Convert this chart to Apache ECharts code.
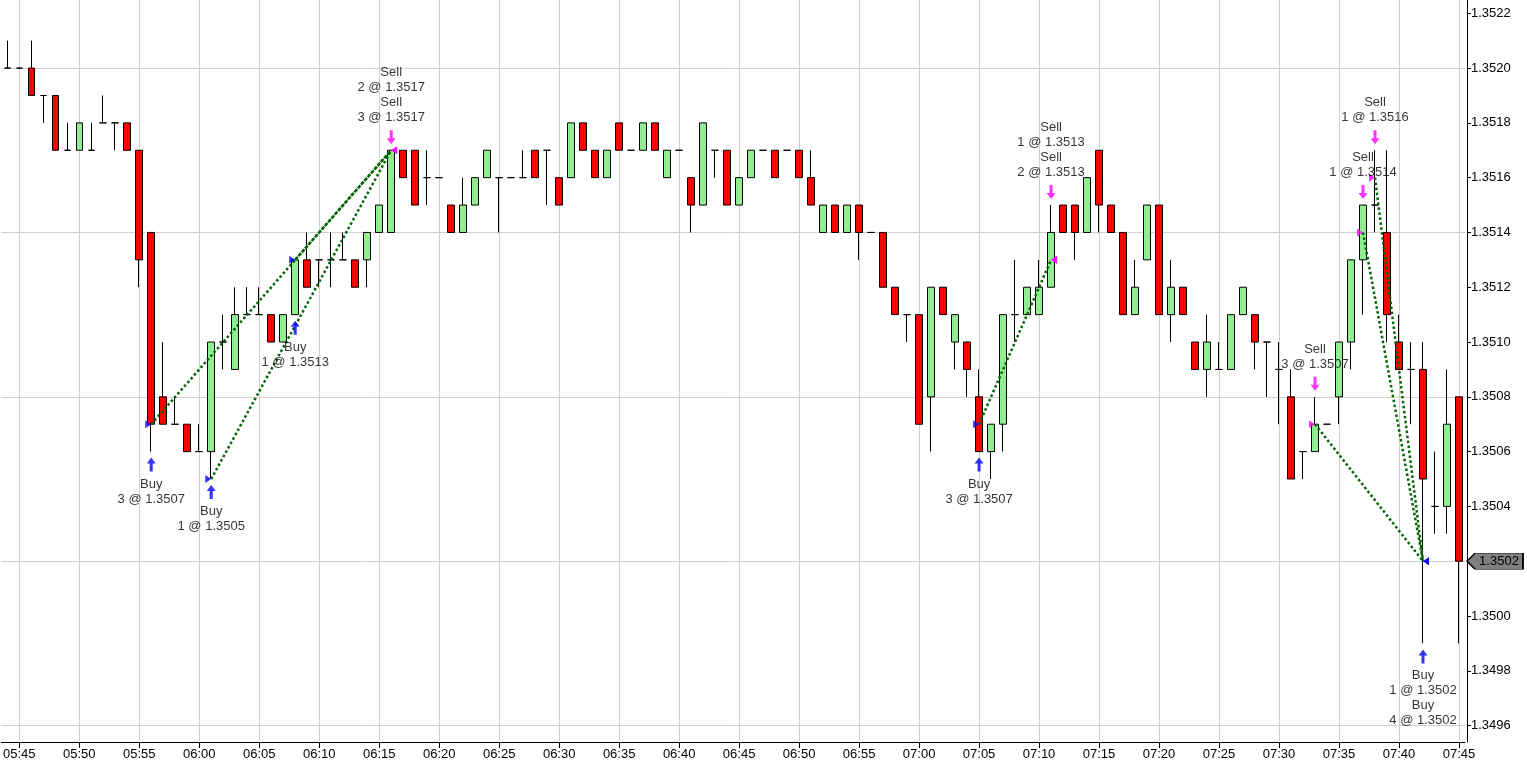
<!DOCTYPE html>
<html>
<head>
<meta charset="utf-8">
<script src="https://cdn.jsdelivr.net/npm/echarts@6/dist/echarts.min.js"></script>
<style>
html,body{margin:0;padding:0;background:#fff;}
#chart{width:1527px;height:769px;}
</style>
</head>
<body>
<div id="chart"></div>
<script>
const times = [
'05:44','05:45','05:46','05:47','05:48','05:49','05:50','05:51','05:52','05:53','05:54','05:55','05:56','05:57','05:58','05:59',
'06:00','06:01','06:02','06:03','06:04','06:05','06:06','06:07','06:08','06:09','06:10','06:11','06:12','06:13','06:14','06:15','06:16','06:17','06:18','06:19',
'06:20','06:21','06:22','06:23','06:24','06:25','06:26','06:27','06:28','06:29','06:30','06:31','06:32','06:33','06:34','06:35','06:36','06:37','06:38','06:39',
'06:40','06:41','06:42','06:43','06:44','06:45','06:46','06:47','06:48','06:49','06:50','06:51','06:52','06:53','06:54','06:55','06:56','06:57','06:58','06:59',
'07:00','07:01','07:02','07:03','07:04','07:05','07:06','07:07','07:08','07:09','07:10','07:11','07:12','07:13','07:14','07:15','07:16','07:17','07:18','07:19',
'07:20','07:21','07:22','07:23','07:24','07:25','07:26','07:27','07:28','07:29','07:30','07:31','07:32','07:33','07:34','07:35','07:36','07:37','07:38','07:39',
'07:40','07:41','07:42','07:43','07:44','07:45'
];

const opens = [
1.3520,1.3520,1.3520,1.3519,1.3519,1.3517,1.3517,1.3517,1.3518,1.3518,
1.3518,1.3517,1.3514,1.3508,1.3507,1.3507,1.3506,1.3506,1.3510,1.3509,
1.3511,1.3511,1.3511,1.3510,1.3511,1.3513,1.3513,1.3513,1.3513,1.3513,
1.3513,1.3514,1.3514,1.3517,1.3517,1.3516,1.3516,1.3515,1.3514,1.3515,
1.3516,1.3516,1.3516,1.3516,1.3517,1.3517,1.3516,1.3516,1.3518,1.3517,
1.3516,1.3518,1.3517,1.3517,1.3518,1.3516,1.3517,1.3516,1.3515,1.3517,
1.3517,1.3515,1.3516,1.3517,1.3517,1.3517,1.3517,1.3516,1.3514,1.3515,
1.3514,1.3515,1.3514,1.3514,1.3512,1.3511,1.3511,1.3508,1.3512,1.3510,
1.3510,1.3508,1.3506,1.3507,1.3511,1.3511,1.3511,1.3512,1.3515,1.3515,
1.3514,1.3517,1.3515,1.3514,1.3511,1.3513,1.3515,1.3511,1.3512,1.3510,
1.3509,1.3509,1.3509,1.3511,1.3511,1.3510,1.3509,1.3508,1.3506,1.3506,
1.3507,1.3508,1.3510,1.3513,1.3515,1.3514,1.3510,1.3509,1.3509,1.3504,
1.3504,1.3508
];
const closes = [
1.3520,1.3520,1.3519,1.3519,1.3517,1.3517,1.3518,1.3517,1.3518,1.3518,
1.3517,1.3513,1.3507,1.3507,1.3507,1.3506,1.3506,1.3510,1.3510,1.3511,
1.3511,1.3511,1.3510,1.3511,1.3513,1.3512,1.3513,1.3513,1.3513,1.3512,
1.3514,1.3515,1.3517,1.3516,1.3515,1.3516,1.3516,1.3514,1.3515,1.3516,
1.3517,1.3516,1.3516,1.3516,1.3516,1.3517,1.3515,1.3518,1.3517,1.3516,
1.3517,1.3517,1.3517,1.3518,1.3517,1.3517,1.3517,1.3515,1.3518,1.3517,
1.3515,1.3516,1.3517,1.3517,1.3516,1.3517,1.3516,1.3515,1.3515,1.3514,
1.3515,1.3514,1.3514,1.3512,1.3511,1.3511,1.3507,1.3512,1.3511,1.3511,
1.3509,1.3506,1.3507,1.3511,1.3511,1.3512,1.3512,1.3514,1.3514,1.3514,
1.3516,1.3515,1.3514,1.3511,1.3512,1.3515,1.3511,1.3512,1.3511,1.3509,
1.3510,1.3509,1.3511,1.3512,1.3510,1.3510,1.3509,1.3505,1.3506,1.3507,
1.3507,1.3510,1.3513,1.3515,1.3515,1.3511,1.3509,1.3509,1.3505,1.3504,
1.3507,1.3502
];
const lows = [
1.3520,1.3520,1.3519,1.3518,1.3517,1.3517,1.3517,1.3517,1.3518,1.3517,
1.3517,1.3512,1.3506,1.3507,1.3507,1.3506,1.3506,1.3505,1.3509,1.3509,
1.3511,1.3511,1.3510,1.3510,1.3511,1.3512,1.3512,1.3512,1.3513,1.3512,
1.3512,1.3514,1.3514,1.3516,1.3515,1.3515,1.3516,1.3514,1.3514,1.3515,
1.3516,1.3514,1.3516,1.3516,1.3516,1.3515,1.3515,1.3516,1.3517,1.3516,
1.3516,1.3517,1.3517,1.3517,1.3517,1.3516,1.3517,1.3514,1.3515,1.3516,
1.3515,1.3515,1.3516,1.3517,1.3516,1.3517,1.3516,1.3515,1.3514,1.3514,
1.3514,1.3513,1.3514,1.3512,1.3511,1.3510,1.3507,1.3506,1.3511,1.3509,
1.3508,1.3506,1.3505,1.3506,1.3510,1.3511,1.3511,1.3512,1.3514,1.3513,
1.3514,1.3514,1.3514,1.3511,1.3511,1.3513,1.3511,1.3510,1.3511,1.3509,
1.3508,1.3509,1.3509,1.3511,1.3509,1.3508,1.3507,1.3505,1.3505,1.3506,
1.3507,1.3507,1.3509,1.3511,1.3514,1.3510,1.3509,1.3507,1.3499,1.3503,
1.3503,1.3499
];
const highs = [
1.3521,1.3520,1.3521,1.3519,1.3519,1.3518,1.3518,1.3518,1.3519,1.3518,
1.3518,1.3517,1.3514,1.3510,1.3508,1.3507,1.3507,1.3510,1.3511,1.3512,
1.3512,1.3512,1.3511,1.3511,1.3513,1.3514,1.3513,1.3514,1.3514,1.3513,
1.3514,1.3515,1.3517,1.3517,1.3517,1.3517,1.3516,1.3515,1.3516,1.3516,
1.3517,1.3516,1.3516,1.3517,1.3517,1.3517,1.3516,1.3518,1.3518,1.3517,
1.3517,1.3518,1.3517,1.3518,1.3518,1.3517,1.3517,1.3516,1.3518,1.3517,
1.3517,1.3516,1.3517,1.3517,1.3517,1.3517,1.3517,1.3517,1.3515,1.3515,
1.3515,1.3515,1.3514,1.3514,1.3512,1.3511,1.3511,1.3512,1.3512,1.3511,
1.3510,1.3509,1.3507,1.3511,1.3513,1.3512,1.3513,1.3515,1.3515,1.3515,
1.3516,1.3517,1.3515,1.3514,1.3513,1.3515,1.3515,1.3513,1.3512,1.3510,
1.3511,1.3510,1.3511,1.3512,1.3511,1.3510,1.3510,1.3509,1.3506,1.3508,
1.3507,1.3510,1.3513,1.3515,1.3517,1.3517,1.3511,1.3510,1.3510,1.3506,
1.3509,1.3508
];

// trades: time, side, quantity, price, role
const tradeTimes  = ['05:56','06:01','06:08','06:16','06:16','07:05','07:11','07:11','07:33','07:37','07:38','07:42','07:42'];
const tradeSides  = ['Buy','Buy','Buy','Sell','Sell','Buy','Sell','Sell','Sell','Sell','Sell','Buy','Buy'];
const tradeQty    = [3,1,1,2,3,3,1,2,3,1,1,1,4];
const tradePrices = [1.3507,1.3505,1.3513,1.3517,1.3517,1.3507,1.3513,1.3513,1.3507,1.3514,1.3516,1.3502,1.3502];
const tradeRoles  = ['entry','entry','entry','exit','exit','entry','exit','exit','entry','entry','entry','exit','exit'];

// round trips: entry time, entry price, exit time, exit price
const tripFrom = [['05:56',1.3507],['06:01',1.3505],['06:08',1.3513],['07:05',1.3507],['07:33',1.3507],['07:37',1.3514],['07:38',1.3516]];
const tripTo   = [['06:16',1.3517],['06:16',1.3517],['06:16',1.3517],['07:11',1.3513],['07:42',1.3502],['07:42',1.3502],['07:42',1.3502]];

const yTicks = [1.3496,1.3498,1.3500,1.3502,1.3504,1.3506,1.3508,1.3510,1.3512,1.3514,1.3516,1.3518,1.3520,1.3522];
const yGrid  = [1.3496,1.3502,1.3508,1.3514,1.3520];

const FONT = '"Liberation Sans", Arial, sans-serif';
const GRIDC = '#d4d0c8';
const BLUE = '#0000ff', MAGENTA = '#ff00ff';

const idx = t => times.indexOf(t);
const candleData = times.map((t, i) => [opens[i], closes[i], lows[i], highs[i]]);
const fiveMin = (i, v) => parseInt(String(v).slice(3), 10) % 5 === 0;

// triangles at the trade price
const triRight = 'path://M0,0 L6,4 L0,8 Z';
const triLeft  = 'path://M6,0 L0,4 L6,8 Z';
const triData = tradeTimes.map((t, k) => ({
  value: [idx(t), tradePrices[k]],
  symbol: tradeRoles[k] === 'entry' ? triRight : triLeft,
  symbolSize: [6, 8],
  symbolOffset: [tradeRoles[k] === 'entry' ? -3 : 3, 0],
  itemStyle: { color: tradeSides[k] === 'Buy' ? BLUE : MAGENTA }
}));

// arrows + text grouped per bar
const arrowUp   = 'path://M4.5,0 L9,6 L6,6 L6,14 L3,14 L3,6 L0,6 Z';
const arrowDown = 'path://M3,0 L6,0 L6,8 L9,8 L4.5,14 L0,8 L3,8 Z';
const groupTimes = [];
tradeTimes.forEach(t => { if (groupTimes.indexOf(t) < 0) groupTimes.push(t); });
const arrowData = groupTimes.map(t => {
  const i = idx(t);
  const ks = tradeTimes.map((tt, k) => tt === t ? k : -1).filter(k => k >= 0);
  const side = tradeSides[ks[0]];
  const text = ks.map(k => tradeSides[k] + '\n' + tradeQty[k] + ' @ ' + tradePrices[k].toFixed(4)).join('\n');
  const buy = side === 'Buy';
  return {
    value: [i, buy ? lows[i] : highs[i]],
    symbol: buy ? arrowUp : arrowDown,
    symbolSize: [9, 14],
    symbolOffset: [0, buy ? 13 : -13],
    itemStyle: { color: buy ? BLUE : MAGENTA },
    label: {
      show: true, position: buy ? 'bottom' : 'top', distance: 5,
      formatter: text, color: '#000', fontSize: 13, lineHeight: 15,
      fontFamily: FONT, align: 'center'
    }
  };
});

const tripSeries = tripFrom.map((f, k) => ({
  type: 'line', silent: true, symbol: 'none', z: 3, animation: false,
  data: [[idx(f[0]), f[1]], [idx(tripTo[k][0]), tripTo[k][1]]],
  lineStyle: { color: '#006400', width: 2.5, type: 'dotted' }
}));

const lastClose = closes[closes.length - 1];
const yMin = 1.34954, yMax = 1.3522485;

const chart = echarts.init(document.getElementById('chart'));
chart.setOption({
  animation: false,
  backgroundColor: '#ffffff',
  grid: { left: 1, right: 62, top: 0, bottom: 27, containLabel: false },
  xAxis: {
    type: 'category', data: times, boundaryGap: true,
    axisLine: { show: true, lineStyle: { color: '#000', width: 1 } },
    axisTick: { show: true, alignWithLabel: true, interval: fiveMin, length: 6, lineStyle: { color: '#000' } },
    axisLabel: { interval: fiveMin, color: '#000', fontSize: 13, fontFamily: FONT, margin: 6 },
    splitLine: { show: true, interval: fiveMin, alignWithLabel: true, lineStyle: { color: GRIDC, width: 1 } }
  },
  yAxis: [{
    type: 'value', position: 'right', offset: 2, min: yMin, max: yMax,
    axisLine: { show: true, lineStyle: { color: '#000', width: 1 } },
    axisTick: { show: true, length: 4, customValues: yTicks, lineStyle: { color: '#000' } },
    axisLabel: { customValues: yTicks, color: '#000', fontSize: 13, fontFamily: FONT, margin: 4,
      formatter: v => Number(v).toFixed(4) },
    splitLine: { show: false }
  }, {
    type: 'value', position: 'right', offset: 2, min: yMin, max: yMax,
    axisLine: { show: false },
    axisTick: { show: false, customValues: yGrid },
    axisLabel: { show: false, customValues: yGrid },
    splitLine: { show: true, lineStyle: { color: GRIDC, width: 1 } }
  }],
  series: [{
    type: 'candlestick', data: candleData, barWidth: 7, z: 2,
    itemStyle: { color: '#90ee90', color0: '#ff0000', borderColor: '#000', borderColor0: '#000', borderColorDoji: '#000', borderWidth: 1 },
    emphasis: { disabled: true },
    markPoint: {
      silent: true, animation: false,
      symbol: 'path://M0,8 L8,0 L56,0 L56,16 L8,16 Z', symbolSize: [56, 16], symbolOffset: [36, 0],
      itemStyle: { color: '#808080', borderColor: '#000', borderWidth: 1 },
      label: { show: true, position: 'inside', offset: [4, 0], color: '#000', fontSize: 13, fontFamily: FONT,
        formatter: () => lastClose.toFixed(4) },
      data: [{ coord: [times.length - 1, lastClose] }]
    }
  }].concat(tripSeries).concat([{
    type: 'scatter', data: triData, z: 4, silent: true, animation: false
  }, {
    type: 'scatter', data: arrowData, z: 4, silent: true, animation: false
  }])
});
</script>
</body>
</html>
